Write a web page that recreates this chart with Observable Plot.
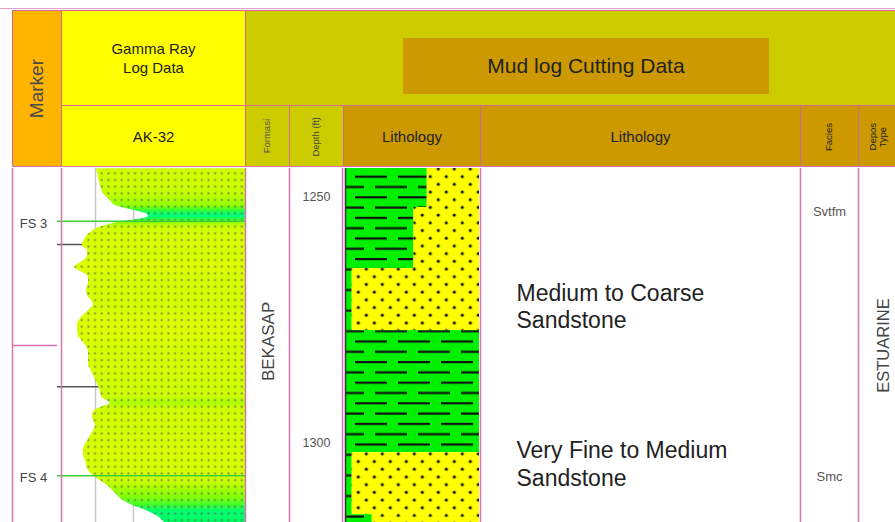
<!DOCTYPE html>
<html><head><meta charset="utf-8">
<script src="https://cdn.jsdelivr.net/npm/d3@7"></script>
<script src="https://cdn.jsdelivr.net/npm/@observablehq/plot@0.6"></script>
<style>
html,body{margin:0;padding:0;background:#fff;overflow:hidden;}
#wrap{position:relative;width:895px;height:522px;font-family:"Liberation Sans",Arial,sans-serif;overflow:hidden;}
#wrap svg{position:absolute;left:0;top:0;}
.cell{position:absolute;box-sizing:border-box;display:flex;align-items:center;justify-content:center;text-align:center;color:#222;border-top:1px solid #d0689a;border-left:1px solid #d0689a;line-height:1.3;}
.rot{writing-mode:vertical-rl;transform:rotate(180deg);line-height:1.1;}
</style></head>
<body><div id="wrap"></div>
<script>
// ---------------- DATA ----------------
const depthTicks = [1250, 1300];
const markers = [{name: "FS 3", depth: 1254.9}, {name: "FS 4", depth: 1306.6}];
const boundaryDepths = [1259.6, 1288.5];
const markerZoneBreaks = [1280.15];
const grGrid = [30, 60, 90, 120];

const grDepth = [1244.2,1245.0,1246.2,1247.6,1249.3,1250.7,1251.7,1252.3,1252.9,1253.5,1253.9,1254.3,1254.7,1255.1,1255.6,1256.2,1257.0,1258.0,1259.0,1259.8,1260.8,1261.9,1262.9,1263.7,1264.3,1264.9,1265.5,1266.3,1267.5,1269.0,1270.0,1271.0,1271.8,1272.8,1273.8,1274.9,1275.9,1277.1,1278.3,1279.3,1280.4,1281.6,1282.8,1284.0,1285.0,1286.2,1287.5,1288.5,1289.5,1290.5,1291.3,1291.9,1292.5,1293.4,1294.4,1295.4,1296.4,1297.4,1298.4,1299.5,1300.5,1301.5,1302.5,1303.5,1304.5,1305.6,1306.6,1307.6,1308.6,1309.6,1310.6,1311.7,1312.7,1313.7,1314.7,1315.7,1316.3];
const grValue = [30.8,31.6,32.4,33.9,36.3,41.8,45.8,53.7,63.9,71.1,71.8,67.9,59.2,48.2,40.3,32.4,26.8,22.9,20.5,19.7,23.7,23.7,20.5,15.8,13.4,16.6,21.3,24.5,24.5,22.9,23.7,26.8,28.4,25.3,21.3,17.4,15.8,15.8,16.6,19.7,22.9,24.5,24.5,24.5,26.1,28.4,30.8,32.4,33.9,34.7,38.7,41.8,36.3,29.2,27.6,28.4,30.0,28.4,26.1,23.7,21.3,20.5,20.5,22.1,22.9,24.5,28.4,33.9,39.5,43.4,47.4,52.1,60.0,70.3,78.2,82.9,85.3];

const lithTop  = [1244.17, 1252.1, 1264.5, 1277.1, 1301.9, 1314.5];
const lithBase = [1252.1, 1264.5, 1277.1, 1301.9, 1314.5, 1317.0];
const shalePct = [61, 51, 5, 100, 5, 20];

const descText  = ["Medium to Coarse\nSandstone", "Very Fine to Medium\nSandstone"];
const descDepth = [1272.0, 1304.1];
const formationNames = ["BEKASAP"];
const formationDepth = [1279.3];
const faciesCodes = ["Svtfm", "Smc"];
const faciesDepth = [1252.9, 1306.8];
const deposTypes = ["ESTUARINE"];
const deposDepth = [1280.15];

// ---------------- LAYOUT ----------------
const colEdges = [12, 61, 245, 289, 342, 480, 800, 858];
const litL = 345, litR = 479;
const pink = "#d874b4";
const font = "'Liberation Sans', Arial, sans-serif";

const wrap = document.getElementById("wrap");

// ---------------- BODY PLOT ----------------
const gx = d3.scaleLinear([0, 150], [57, 247]);
const gr = grDepth.map((d, i) => ({depth: d, gr: grValue[i]}));
const lith = lithTop.map((t, i) => ({top: t, base: lithBase[i], shale: shalePct[i]}));
const shaleX = d => litL + d.shale / 100 * (litR - litL);
const desc = descText.map((t, i) => ({text: t, depth: descDepth[i]}));
const forms = formationNames.map((t, i) => ({text: t, depth: formationDepth[i]}));
const facies = faciesCodes.map((t, i) => ({text: t, depth: faciesDepth[i]}));
const depos = deposTypes.map((t, i) => ({text: t, depth: deposDepth[i]}));
const D0 = 1244.17, D1 = 1316.1;

const plot = Plot.plot({
  width: 895, height: 522, margin: 0,
  x: {domain: [0, 895], range: [0, 895], axis: null},
  y: {domain: [D0, D1], range: [168, 522], axis: null},
  style: {background: "transparent", fontFamily: font},
  marks: [
    // GR track grid
    Plot.ruleX(grGrid, {x: d => gx(d), y1: D0, y2: D1, stroke: "#c8c8c8", strokeWidth: 1.5}),
    Plot.ruleY(boundaryDepths, {y: d => d, x1: 57, x2: 245, stroke: "#555", strokeWidth: 1.5}),
    Plot.areaX(gr, {y: "depth", x1: d => gx(d.gr), x2: 245, fill: "url(#grGrad)", curve: "monotone-y"}),
    Plot.areaX(gr, {y: "depth", x1: d => gx(d.gr), x2: 245, fill: "url(#grDots)", curve: "monotone-y"}),
    Plot.ruleY(markers, {y: "depth", x1: 57, x2: 245, stroke: "#3ccf3c", strokeWidth: 1.6}),
    Plot.text(markers, {y: "depth", x: 33, text: "name", dy: 2.5, fontSize: 13, fill: "#444"}),
    Plot.ruleY(markerZoneBreaks, {y: d => d, x1: 12, x2: 57, stroke: pink, strokeWidth: 1.5}),
    // lithology
    Plot.rect(lith, {x1: litL, x2: shaleX, y1: "top", y2: "base", fill: "url(#shalePat)"}),
    Plot.rect(lith, {x1: shaleX, x2: litR, y1: "top", y2: "base", fill: "url(#sandPat)"}),
    Plot.ruleX([litL], {x: d => d, y1: D0, y2: D1, stroke: "#333", strokeWidth: 1.5}),
    // column lines
    Plot.ruleX(colEdges, {x: d => d, y1: D0, y2: D1, stroke: pink, strokeWidth: 1.5}),
    // texts
    Plot.text(depthTicks, {x: 316, y: d => d, text: d => String(d), fontSize: 12.5, fill: "#555"}),
    Plot.text(desc, {x: 516, y: "depth", text: "text", textAnchor: "start", fontSize: 23, lineHeight: 1.2, fill: "#222"}),
    Plot.text(forms, {x: 268, y: "depth", text: "text", rotate: -90, fontSize: 17, fill: "#444"}),
    Plot.text(facies, {x: 829, y: "depth", text: "text", fontSize: 13, fill: "#555"}),
    Plot.text(depos, {x: 883, y: "depth", text: "text", rotate: -90, fontSize: 16.5, fill: "#444"})
  ]
});

// patterns & gradient
const defs = d3.select(plot).insert("defs", ":first-child");
const col = d3.scaleLinear().domain([15, 35, 45, 58, 72, 85])
  .range(["#dcff00", "#ccff00", "#99ff00", "#44ff22", "#00ff77", "#00ff60"]).clamp(true);
const grad = defs.append("linearGradient").attr("id", "grGrad")
  .attr("x1", 0).attr("y1", 0).attr("x2", 0).attr("y2", 1);
const g0 = grDepth[0], gN = grDepth[grDepth.length - 1];
gr.forEach(d => grad.append("stop").attr("offset", (d.depth - g0) / (gN - g0)).attr("stop-color", col(d.gr)));

const pd = defs.append("pattern").attr("id", "grDots").attr("patternUnits", "userSpaceOnUse")
  .attr("x", 5).attr("y", 3.2).attr("width", 6.67).attr("height", 6.67);
pd.append("rect").attr("x", 2.4).attr("y", 2.4).attr("width", 1.9).attr("height", 1.9).attr("fill", "#5a5a5a").attr("opacity", 0.75);

const ps = defs.append("pattern").attr("id", "shalePat").attr("patternUnits", "userSpaceOnUse")
  .attr("x", 9).attr("y", 6.9).attr("width", 43).attr("height", 20.6);
ps.append("rect").attr("width", 43).attr("height", 20.6).attr("fill", "#00f000");
[[2, 34, 5], [22, 43, 15.3], [0, 11, 15.3]].forEach(([a, b, y]) =>
  ps.append("line").attr("x1", a).attr("x2", b).attr("y1", y).attr("y2", y).attr("stroke", "#111").attr("stroke-width", 2.2));

const pa = defs.append("pattern").attr("id", "sandPat").attr("patternUnits", "userSpaceOnUse")
  .attr("x", 2.3).attr("y", 10.9).attr("width", 16).attr("height", 15.4);
pa.append("rect").attr("width", 16).attr("height", 15.4).attr("fill", "#ffff00");
[[4, 4], [12, 11.7]].forEach(([cx, cy]) =>
  pa.append("circle").attr("cx", cx).attr("cy", cy).attr("r", 1.5).attr("fill", "#111"));

wrap.appendChild(plot);

// ---------------- HEADER ----------------
const headerCells = [
  {x1: 12, y1: 10, x2: 61, y2: 167, bg: "#FFB400", text: "Marker", size: 19, color: "#4a4a4a", rot: true},
  {x1: 61, y1: 10, x2: 245, y2: 105, bg: "#FFFF00", text: "Gamma Ray<br>Log Data", size: 15},
  {x1: 61, y1: 105, x2: 245, y2: 167, bg: "#FFFF00", text: "AK-32", size: 15},
  {x1: 245, y1: 10, x2: 895, y2: 105, bg: "#CCCC00", text: ""},
  {x1: 245, y1: 105, x2: 289, y2: 167, bg: "#CCCC00", text: "Formasi", size: 9.5, color: "#555", rot: true},
  {x1: 289, y1: 105, x2: 343, y2: 167, bg: "#CCCC00", text: "Depth (ft)", size: 9.5, color: "#444", rot: true},
  {x1: 343, y1: 105, x2: 480, y2: 167, bg: "#CC9900", text: "Lithology", size: 15},
  {x1: 480, y1: 105, x2: 800, y2: 167, bg: "#CC9900", text: "Lithology", size: 15},
  {x1: 800, y1: 105, x2: 858, y2: 167, bg: "#CC9900", text: "Facies", size: 9.5, rot: true},
  {x1: 858, y1: 105, x2: 897, y2: 167, bg: "#CC9900", text: "Depos<br>Type", size: 9.5, rot: true}
];
headerCells.forEach(c => {
  const el = document.createElement("div");
  el.className = "cell";
  Object.assign(el.style, {left: c.x1 + "px", top: c.y1 + "px", width: (c.x2 - c.x1) + "px",
    height: (c.y2 - c.y1) + "px", background: c.bg});
  if (c.text) {
    const s = document.createElement("span");
    s.innerHTML = c.text;
    s.style.fontSize = c.size + "px";
    s.style.color = c.color || "#222";
    if (c.rot) s.className = "rot";
    el.appendChild(s);
  }
  wrap.appendChild(el);
});
const box = document.createElement("div");
box.className = "cell";
Object.assign(box.style, {left: "403px", top: "38px", width: "366px", height: "56px", background: "#CC9900",
  border: "none", fontSize: "21px", color: "#222"});
box.textContent = "Mud log Cutting Data";
wrap.appendChild(box);
const bottomLine = document.createElement("div");
Object.assign(bottomLine.style, {position: "absolute", left: "12px", top: "166px", width: "883px", height: "0",
  borderTop: "1.5px solid " + pink});
wrap.appendChild(bottomLine);
const topLine = document.createElement("div");
Object.assign(topLine.style, {position: "absolute", left: "0px", top: "8px", width: "895px", height: "0",
  borderTop: "1px solid #e0a0c8"});
wrap.appendChild(topLine);
</script>
</body></html>
